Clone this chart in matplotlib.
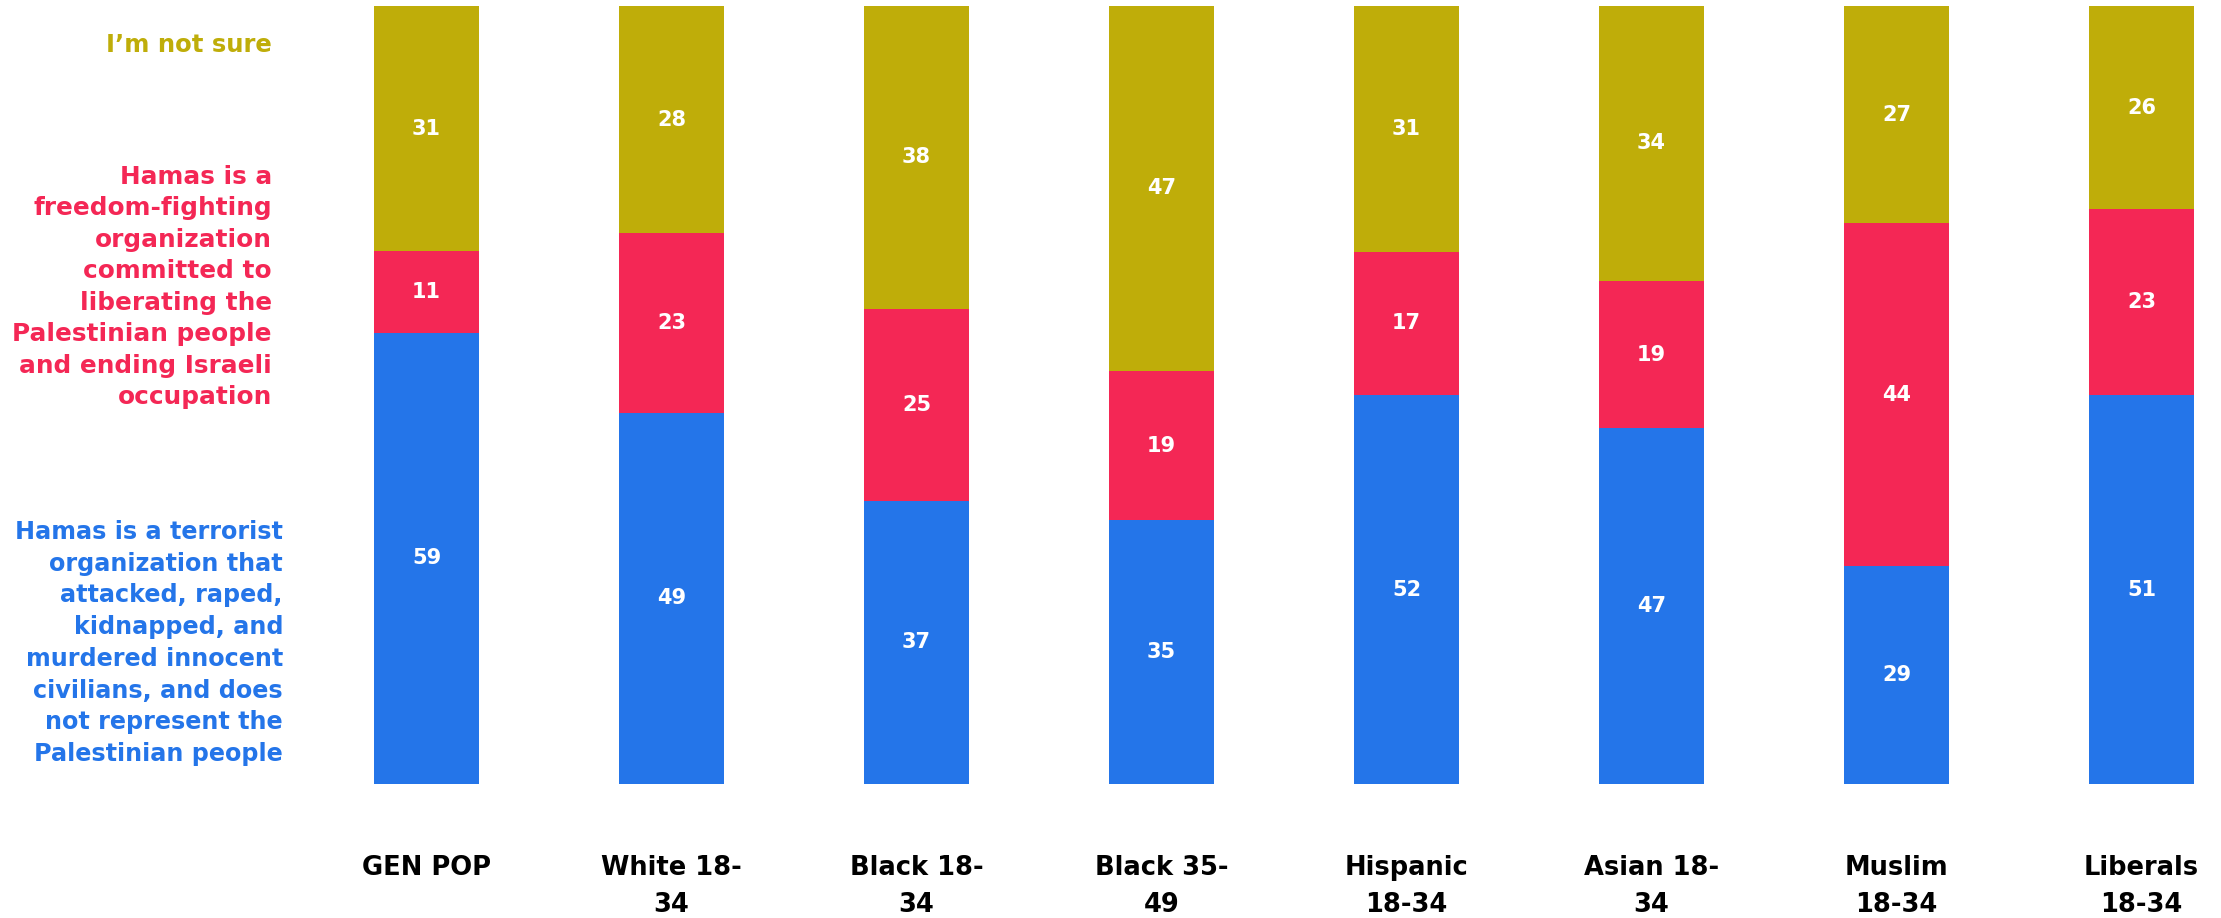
import matplotlib
matplotlib.use("Agg")
import matplotlib.pyplot as plt
import numpy as np

categories = ["GEN POP", "White 18-\n34", "Black 18-\n34", "Black 35-\n49",
              "Hispanic\n18-34", "Asian 18-\n34", "Muslim\n18-34", "Liberals\n18-34"]

# value labels printed on the segments
terrorist_lbl = [59, 49, 37, 35, 52, 47, 29, 51]
freedom_lbl = [11, 23, 25, 19, 17, 19, 44, 23]
not_sure_lbl = [31, 28, 38, 47, 31, 34, 27, 26]

# segment shares (%) as drawn in the chart
terrorist = [58.0, 47.7, 36.4, 33.9, 50.0, 45.7, 28.0, 50.0]
freedom = [10.5, 23.1, 24.6, 19.2, 18.4, 18.9, 44.1, 23.9]
not_sure = [31.5, 29.2, 38.9, 46.9, 31.6, 35.3, 27.9, 26.1]

series_names = [
    "Hamas is a terrorist\norganization that\nattacked, raped,\nkidnapped, and\nmurdered innocent\ncivilians, and does\nnot represent the\nPalestinian people",
    "Hamas is a\nfreedom-fighting\norganization\ncommitted to\nliberating the\nPalestinian people\nand ending Israeli\noccupation",
    "I\u2019m not sure",
]
colors = ["#2475E9", "#F42755", "#BFAD09"]

W, H = 2221, 918
fig = plt.figure(figsize=(W / 100, H / 100), dpi=100)
ax = fig.add_axes([0, (H - 784) / H, 1, (784 - 6) / H])

series = [np.array(terrorist, float), np.array(freedom, float), np.array(not_sure, float)]
labels = [terrorist_lbl, freedom_lbl, not_sure_lbl]
totals = sum(series)
x = np.arange(len(categories))
bottom = np.zeros(len(categories))
FONT = "DejaVu Sans"
for vals, lbls, col in zip(series, labels, colors):
    h = vals / totals * 100
    ax.bar(x, h, bottom=bottom, width=105 / 245, color=col, linewidth=0)
    for xi, b, hh, v in zip(x, bottom, h, lbls):
        ax.text(xi, b + hh / 2, f"{v}", ha="center", va="center",
                color="white", fontsize=15, fontweight="bold", family=FONT)
    bottom += h

ax.set_xlim(-426.5 / 245, (W - 426.5) / 245)
ax.set_ylim(0, 100)
ax.set_xticks(x)
ax.set_xticklabels(categories, fontsize=18.5, fontweight="bold", family=FONT,
                   linespacing=1.55, color="black")
ax.tick_params(axis="x", length=0, pad=51)
ax.set_yticks([])
for s in ax.spines.values():
    s.set_visible(False)

def ypix(p):
    return (784 - p) / (784 - 6) * 100

lx = (272 - 426.5) / 245
ax.text(lx, ypix(45), series_names[2], ha="right", va="center", color=colors[2],
        fontsize=17.5, fontweight="bold", family=FONT, clip_on=False)
ax.text(lx, ypix(287), series_names[1], ha="right", va="center", color=colors[1],
        fontsize=17.8, fontweight="bold", family=FONT, linespacing=1.39,
        multialignment="right", clip_on=False)
ax.text((283 - 426.5) / 245, ypix(643), series_names[0], ha="right", va="center",
        color=colors[0], fontsize=17.2, fontweight="bold", family=FONT,
        linespacing=1.41, multialignment="right", clip_on=False)

fig.savefig("out.png", dpi=100)
